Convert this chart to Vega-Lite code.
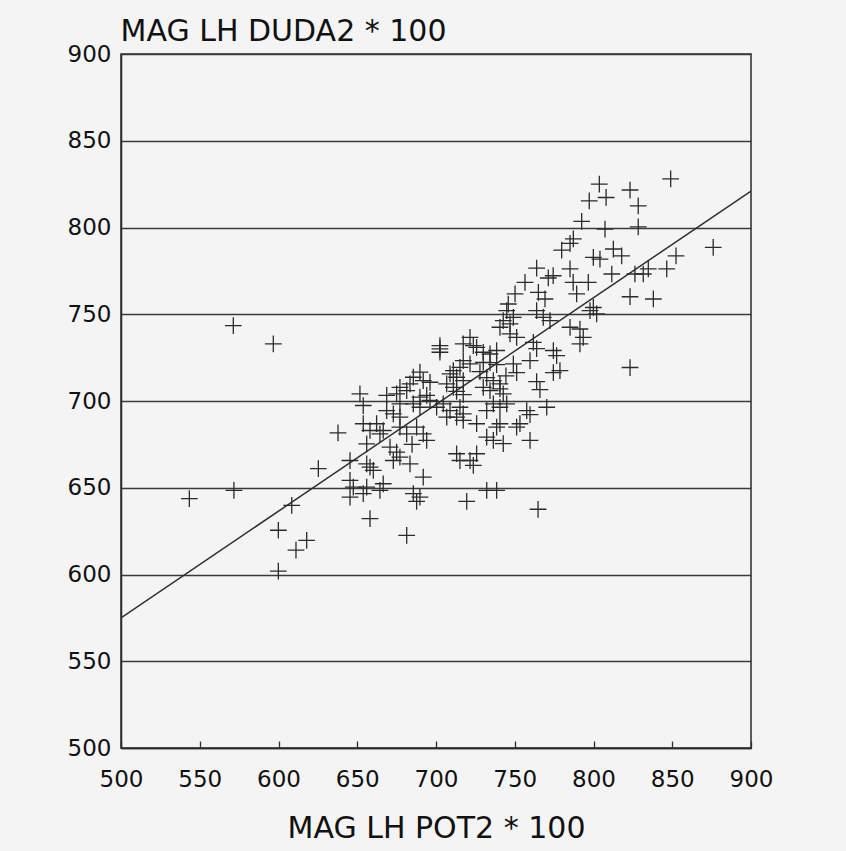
{
  "$schema": "https://vega.github.io/schema/vega-lite/v6.json",
  "width": 630,
  "height": 694,
  "autosize": {"type": "none"},
  "padding": {"left": 121, "top": 54, "right": 95, "bottom": 103},
  "background": "#f4f4f4",
  "config": {
    "view": {"stroke": "#2a2a2a", "strokeWidth": 1.5},
    "font": "DejaVu Sans"
  },
  "datasets": {
    "fit": [{"x": 500, "y": 575}, {"x": 900, "y": 821}],
    "pts": [
      {"x": 849, "y": 828}, {"x": 803.7, "y": 825}, {"x": 823.2, "y": 821.6}, {"x": 797.3, "y": 815.4},
      {"x": 808, "y": 817.3}, {"x": 828.4, "y": 812.5}, {"x": 792.5, "y": 803.5}, {"x": 807.3, "y": 799.1},
      {"x": 828.4, "y": 800.4}, {"x": 787.2, "y": 793.4}, {"x": 785.1, "y": 790.8}, {"x": 779.8, "y": 787},
      {"x": 876, "y": 788.5}, {"x": 799.9, "y": 782.8}, {"x": 804.1, "y": 781.8}, {"x": 812.6, "y": 787.6},
      {"x": 817.9, "y": 783.7}, {"x": 852.4, "y": 783.7}, {"x": 763.9, "y": 776.6}, {"x": 785.1, "y": 776.1},
      {"x": 811.6, "y": 773.2}, {"x": 774.4, "y": 772.2}, {"x": 771.3, "y": 770.9}, {"x": 834.8, "y": 776.1},
      {"x": 846.5, "y": 776.1}, {"x": 826.3, "y": 773.2}, {"x": 831.6, "y": 773.2}, {"x": 756.5, "y": 768.4},
      {"x": 787.1, "y": 768.4}, {"x": 796.7, "y": 768.4}, {"x": 765, "y": 762.6}, {"x": 750.2, "y": 761.7},
      {"x": 769.2, "y": 758.8}, {"x": 789.3, "y": 761.7}, {"x": 823.2, "y": 760.1}, {"x": 838, "y": 758.8},
      {"x": 745.9, "y": 755.9}, {"x": 799.9, "y": 753.9},
      {"x": 744.9, "y": 752.1}, {"x": 749.1, "y": 748.2}, {"x": 742.7, "y": 746.3}, {"x": 747, "y": 744.4},
      {"x": 740.6, "y": 742.5}, {"x": 747, "y": 738.7}, {"x": 751.2, "y": 736.7}, {"x": 763.9, "y": 752.1},
      {"x": 768.1, "y": 748.2}, {"x": 772.4, "y": 746.3}, {"x": 797.8, "y": 752.1}, {"x": 802, "y": 750.2},
      {"x": 785.1, "y": 742.5}, {"x": 791.4, "y": 741.5}, {"x": 793.5, "y": 736.7}, {"x": 791.4, "y": 732.9},
      {"x": 761.8, "y": 733.8}, {"x": 763.9, "y": 730.2}, {"x": 774.5, "y": 729.1}, {"x": 776.6, "y": 726.2},
      {"x": 759.7, "y": 723.3}, {"x": 778.7, "y": 717.5}, {"x": 774.5, "y": 716.4}, {"x": 823.2, "y": 719.3},
      {"x": 749.1, "y": 721.4}, {"x": 751.2, "y": 716.4}, {"x": 763.9, "y": 711.2}, {"x": 766, "y": 706.6},
      {"x": 770.3, "y": 696.4}, {"x": 757.6, "y": 694.5}, {"x": 759.7, "y": 692.2}, {"x": 721.6, "y": 736.7},
      {"x": 725.8, "y": 730.9}, {"x": 730, "y": 728.1}, {"x": 734.3, "y": 727.1}, {"x": 738.5, "y": 729.1},
      {"x": 717.3, "y": 723.3}, {"x": 721.6, "y": 721.4}, {"x": 730, "y": 722.3}, {"x": 734.3, "y": 722.1},
      {"x": 738.5, "y": 721}, {"x": 711, "y": 717.5}, {"x": 715.2, "y": 719.4}, {"x": 727.9, "y": 716.9},
      {"x": 732.2, "y": 713.5}, {"x": 736.4, "y": 711.8}, {"x": 740.6, "y": 709.9}, {"x": 744.4, "y": 714.5},
      {"x": 717.3, "y": 732.9}, {"x": 723.7, "y": 731.9},
      {"x": 702.5, "y": 731.9}, {"x": 702.5, "y": 730}, {"x": 702.5, "y": 728.1}, {"x": 689.8, "y": 716.6},
      {"x": 685.6, "y": 713.7}, {"x": 691.9, "y": 711.8}, {"x": 696.2, "y": 710.8}, {"x": 683.5, "y": 709.9},
      {"x": 681.4, "y": 706}, {"x": 677.1, "y": 707.9}, {"x": 675, "y": 704.1}, {"x": 668.7, "y": 703.2},
      {"x": 708.9, "y": 715.6}, {"x": 713.1, "y": 713.7}, {"x": 706.8, "y": 709.9}, {"x": 711, "y": 707.9},
      {"x": 717.3, "y": 711.8}, {"x": 651.7, "y": 704.1}, {"x": 713.1, "y": 705.5}, {"x": 717.3, "y": 703.7},
      {"x": 730, "y": 707.9}, {"x": 734.3, "y": 706}, {"x": 740.6, "y": 707}, {"x": 742.7, "y": 704.1},
      {"x": 653.8, "y": 697.4}, {"x": 677.1, "y": 698.3}, {"x": 668.7, "y": 694.5}, {"x": 672.9, "y": 692.6},
      {"x": 677.1, "y": 690.7}, {"x": 689.8, "y": 702.2}, {"x": 694.1, "y": 703.2}, {"x": 696.2, "y": 700.3},
      {"x": 685.6, "y": 698.3}, {"x": 689.8, "y": 696.4}, {"x": 700.4, "y": 696.4}, {"x": 704.6, "y": 698.3},
      {"x": 708.9, "y": 694.5}, {"x": 706.8, "y": 690.7}, {"x": 713.1, "y": 690.7}, {"x": 637.8, "y": 681.6},
      {"x": 653.8, "y": 686.9}, {"x": 658.1, "y": 683}, {"x": 662.3, "y": 686.9}, {"x": 664.4, "y": 681.1},
      {"x": 666.5, "y": 683}, {"x": 677.1, "y": 684.9}, {"x": 681.4, "y": 681.1}, {"x": 687.7, "y": 684.9},
      {"x": 691.9, "y": 681.1}, {"x": 694.1, "y": 677.3}, {"x": 656, "y": 675.3}, {"x": 670.8, "y": 673.4},
      {"x": 675, "y": 670.5}, {"x": 677.1, "y": 667.6}, {"x": 672.9, "y": 665.7}, {"x": 683.5, "y": 663.8},
      {"x": 645.4, "y": 665.7}, {"x": 656, "y": 663.8}, {"x": 658.1, "y": 661.9}, {"x": 660.2, "y": 660},
      {"x": 713.1, "y": 669.6}, {"x": 715.2, "y": 665.7}, {"x": 721.6, "y": 665.7}, {"x": 725.8, "y": 669.6},
      {"x": 723.7, "y": 662.9}, {"x": 691.9, "y": 656.1}, {"x": 645.4, "y": 654.2}, {"x": 647.5, "y": 650.4},
      {"x": 656, "y": 650.4}, {"x": 653.8, "y": 646.6}, {"x": 666.5, "y": 652.3}, {"x": 664.4, "y": 648.5},
      {"x": 685.6, "y": 646.6}, {"x": 689.8, "y": 644.6}, {"x": 687.7, "y": 642.2}, {"x": 645.4, "y": 644.6},
      {"x": 719.5, "y": 642.2}, {"x": 736.4, "y": 698.3}, {"x": 740.6, "y": 696.4}, {"x": 744.9, "y": 698.3},
      {"x": 732.2, "y": 694.5}, {"x": 717.3, "y": 692.6}, {"x": 740.6, "y": 686.9}, {"x": 738.5, "y": 684.9},
      {"x": 753.3, "y": 686.9}, {"x": 751.2, "y": 684.9}, {"x": 732.2, "y": 679.2}, {"x": 736.4, "y": 677.3},
      {"x": 742.7, "y": 675.4}, {"x": 759.7, "y": 677.3}, {"x": 732.2, "y": 648.5}, {"x": 738.5, "y": 648.5},
      {"x": 764.8, "y": 637.6}, {"x": 681.4, "y": 622.6}, {"x": 658.1, "y": 632.2}, {"x": 725.8, "y": 686.9},
      {"x": 717.3, "y": 688.8}, {"x": 715.2, "y": 696.4}, {"x": 684.8, "y": 675},
      {"x": 571.3, "y": 743.5}, {"x": 596.7, "y": 732.9}, {"x": 625.3, "y": 661}, {"x": 599.9, "y": 625.5},
      {"x": 599.9, "y": 601.9}, {"x": 608.4, "y": 639.8}, {"x": 571.7, "y": 648.5}, {"x": 543.4, "y": 643.7},
      {"x": 617.9, "y": 619.7}, {"x": 611.1, "y": 614}
    ]
  },
  "layer": [
    {
      "data": {"name": "fit"},
      "mark": {"type": "line", "color": "#2e2e2e", "strokeWidth": 1.5, "clip": true},
      "encoding": {
        "x": {
          "field": "x", "type": "quantitative",
          "scale": {"domain": [500, 900], "nice": false, "zero": false},
          "axis": {
            "title": "MAG LH POT2 * 100",
            "values": [500, 550, 600, 650, 700, 750, 800, 850, 900],
            "grid": false,
            "tickSize": -7,
            "tickWidth": 1.3,
            "tickColor": "#2e2e2e",
            "domainColor": "#2a2a2a",
            "domainWidth": 1.5,
            "labelFontSize": 23,
            "labelColor": "#111111",
            "labelPadding": 27,
            "labelBaseline": "top",
            "labelFlush": false,
            "titleFontSize": 30,
            "titleFontWeight": "normal",
            "titleColor": "#111111",
            "titleX": 315,
            "titleY": 89,
            "titleBaseline": "alphabetic",
            "titleAlign": "center"
          }
        },
        "y": {
          "field": "y", "type": "quantitative",
          "scale": {"domain": [500, 900], "nice": false, "zero": false},
          "axis": {
            "title": "MAG LH DUDA2 * 100",
            "values": [500, 550, 600, 650, 700, 750, 800, 850, 900],
            "grid": true,
            "gridColor": "#3a3a3a",
            "gridWidth": 1.3,
            "gridOpacity": 1,
            "ticks": false,
            "domainColor": "#2a2a2a",
            "domainWidth": 1.5,
            "labelFontSize": 23,
            "labelColor": "#111111",
            "labelPadding": 10,
            "labelFlush": false,
            "titleFontSize": 30,
            "titleFontWeight": "normal",
            "titleColor": "#111111",
            "titleAngle": 0,
            "titleX": -1,
            "titleY": -14,
            "titleAlign": "left",
            "titleBaseline": "alphabetic"
          }
        }
      }
    },
    {
      "data": {"name": "pts"},
      "mark": {
        "type": "point",
        "shape": "M-1,0L1,0M0,-1L0,1",
        "size": 280,
        "strokeWidth": 1.3,
        "color": "#2b2b2b",
        "filled": false,
        "opacity": 1
      },
      "encoding": {
        "x": {"field": "x", "type": "quantitative"},
        "y": {"field": "y", "type": "quantitative"}
      }
    }
  ]
}
